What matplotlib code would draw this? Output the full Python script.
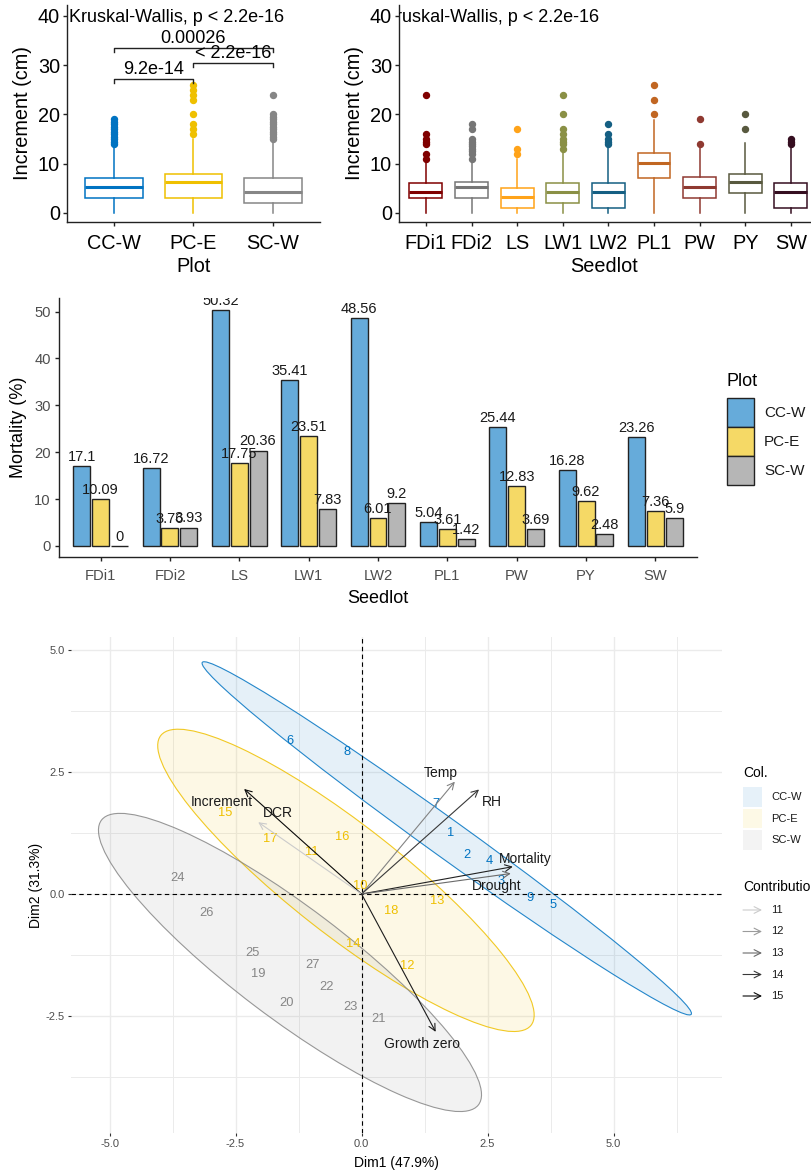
import numpy as np
import matplotlib
matplotlib.use('Agg')
import matplotlib.pyplot as plt
from matplotlib.patches import Ellipse, Rectangle
from matplotlib.colors import LinearSegmentedColormap, Normalize, to_rgb

plt.rcParams['font.family'] = ['Liberation Sans', 'DejaVu Sans']

W, H = 812, 1170

# ---------------- data ----------------
# increment by plot (box stats)
plots = ['CC-W', 'PC-E', 'SC-W']
plot_cols = ['#0073C2', '#EFC000', '#868686']
plot_lo = [0, 0, 0]
plot_q1 = [3, 3, 2]
plot_med = [5.25, 6.3, 4.2]
plot_q3 = [7.1, 8.0, 7.1]
plot_hi = [13.2, 15, 14.5]
plot_out = [[14, 14.5, 15, 15.5, 16, 16.5, 17, 17.5, 18, 18.5, 19],
            [16, 17, 18, 20, 23, 24, 25, 26],
            [15, 15.5, 16, 16.5, 17, 17.5, 18, 18.5, 19, 19.5, 20, 24]]
brk_x1 = [1, 1, 2]
brk_x2 = [2, 3, 3]
brk_y = [27.2, 33.5, 30.4]
brk_lab = ['9.2e-14', '0.00026', '< 2.2e-16']
kw_label = 'Kruskal-Wallis, p < 2.2e-16'

# increment by seedlot
seedlots = ['FDi1', 'FDi2', 'LS', 'LW1', 'LW2', 'PL1', 'PW', 'PY', 'SW']
seed_cols = ['#800000', '#767676', '#FFA319', '#8A9045', '#155F83',
             '#C16622', '#8F3931', '#58593F', '#350E20']
seed_lo = [0, 0, 0, 0, 0, 0, 0, 0, 0]
seed_q1 = [3, 3, 1, 2, 1, 7.1, 3, 4, 1]
seed_med = [4.25, 5.3, 3.2, 4.2, 4.2, 10.2, 5.3, 6.35, 4.2]
seed_q3 = [6.1, 6.2, 5.1, 6.1, 6.1, 12.1, 7.2, 8, 6.1]
seed_hi = [10.2, 10.2, 11, 12.2, 13.2, 18.9, 13.2, 14.2, 13.2]
seed_out = [[11, 12, 14, 14.5, 15, 16, 24],
            [11, 12, 12.5, 13, 13.5, 14, 14.5, 15, 17, 18],
            [12, 13, 17],
            [13, 14, 14.5, 15, 16, 17, 20, 24],
            [14, 14.5, 15, 16, 18],
            [20, 23, 26],
            [14, 19],
            [17, 20],
            [14, 14.5, 15]]

# mortality (%) by seedlot and plot
mort_cc = [17.1, 16.72, 50.32, 35.41, 48.56, 5.04, 25.44, 16.28, 23.26]
mort_pc = [10.09, 3.76, 17.75, 23.51, 6.01, 3.61, 12.83, 9.62, 7.36]
mort_sc = [0, 3.93, 20.36, 7.83, 9.2, 1.42, 3.69, 2.48, 5.9]
bar_cols = ['#66ABDA', '#F5D966', '#B6B6B6']

# PCA biplot
ind_lab = [str(i) for i in range(1, 28)]
ind_x = [1.77, 2.09, 2.76, 2.53, 3.80, -1.42, 1.47, -0.28, 3.34,
         -0.03, -0.99, 0.90, 1.51, -0.17, -2.71, -0.38, -1.82, 0.58,
         -2.04, -1.48, 0.34, -0.69, -0.21, -3.65, -2.16, -3.07, -0.97]
ind_y = [1.25, 0.80, 0.27, 0.67, -0.22, 3.13, 1.84, 2.91, -0.08,
         0.16, 0.86, -1.47, -0.14, -1.02, 1.66, 1.17, 1.12, -0.35,
         -1.64, -2.23, -2.56, -1.90, -2.31, 0.33, -1.21, -0.38, -1.45]
ind_grp = [0] * 9 + [1] * 9 + [2] * 9

ell_cx = [1.69, -0.31, -1.42]
ell_cy = [1.14, 0.28, -1.40]
ell_a = [6.04, 4.72, 4.74]
ell_b = [0.38, 1.11, 1.13]
ell_ang = [-36.6, -39.0, -38.0]

var_names = ['Increment', 'DCR', 'Temp', 'RH', 'Mortality', 'Drought', 'Growth zero']
var_x = [-2.33, -2.05, 1.85, 2.33, 3.00, 2.96, 1.47]
var_y = [2.15, 1.47, 2.30, 2.14, 0.56, 0.42, -2.82]
var_lx = [-2.78, -1.67, 1.57, 2.58, 3.24, 2.68, 1.19]
var_ly = [1.89, 1.65, 2.48, 1.89, 0.71, 0.16, -3.07]
var_contrib = [15, 11, 12.5, 14, 14.5, 13, 14.6]
contrib_ticks = [11, 12, 13, 14, 15]

fig = plt.figure(figsize=(W / 100, H / 100), dpi=100)


def px_axes(l, t, r, b):
    return fig.add_axes([l / W, 1 - b / H, (r - l) / W, (b - t) / H])


def classic(ax, col='black', size=13, xpad=3, ypad=3):
    for s in ['top', 'right']:
        ax.spines[s].set_visible(False)
    for s in ['left', 'bottom']:
        ax.spines[s].set_linewidth(1.0)
        ax.spines[s].set_color('#222222')
    ax.tick_params(length=3, width=1, color='#222222', labelsize=size,
                   labelcolor=col)
    ax.tick_params(axis='x', pad=xpad)
    ax.tick_params(axis='y', pad=ypad)


def boxes(ax, lo, q1, med, q3, hi, out, cols):
    for i in range(len(cols)):
        st = dict(whislo=lo[i], q1=q1[i], med=med[i], q3=q3[i], whishi=hi[i],
                  fliers=out[i])
        c = cols[i]
        ax.bxp([st], positions=[i + 1], widths=0.72, showcaps=False,
               manage_ticks=False, patch_artist=True,
               boxprops=dict(facecolor='white', edgecolor=c, linewidth=1.1),
               whiskerprops=dict(color=c, linewidth=1.1),
               medianprops=dict(color=c, linewidth=2.2),
               flierprops=dict(marker='o', markerfacecolor=c, markeredgecolor=c,
                               markersize=4.3, linestyle='none'))


# ---------------- top left: increment by plot ----------------
ax1 = px_axes(67, 5, 320, 222)
boxes(ax1, plot_lo, plot_q1, plot_med, plot_q3, plot_hi, plot_out, plot_cols)
ax1.set_xlim(0.41, 3.59)
ax1.set_ylim(-1.83, 42.2)
ax1.set_xticks(range(1, 4))
ax1.set_xticklabels(plots)
ax1.set_yticks([0, 10, 20, 30, 40])
classic(ax1, size=14.3, xpad=5.5, ypad=2)
ax1.set_xlabel('Plot', fontsize=14.3, labelpad=3)
ax1.set_ylabel('Increment (cm)', fontsize=14.3, labelpad=4)
ax1.text(0.44, 39.6, kw_label, fontsize=13, va='center', ha='left')
for x1, x2, y, lab in zip(brk_x1, brk_x2, brk_y, brk_lab):
    ax1.plot([x1, x1, x2, x2], [y - 0.8, y, y, y - 0.8], color='#222222', lw=1.0)
    ax1.text((x1 + x2) / 2, y + 0.15, lab, fontsize=13, ha='center', va='bottom')

# ---------------- top right: increment by seedlot ----------------
ax2 = px_axes(399, 5, 810, 222)
boxes(ax2, seed_lo, seed_q1, seed_med, seed_q3, seed_hi, seed_out, seed_cols)
ax2.set_xlim(0.41, 9.42)
ax2.set_ylim(-1.83, 42.2)
ax2.set_xticks(range(1, 10))
ax2.set_xticklabels(seedlots)
ax2.set_yticks([0, 10, 20, 30, 40])
classic(ax2, size=14.3, xpad=5.5, ypad=2)
ax2.set_xlabel('Seedlot', fontsize=14.3, labelpad=3)
ax2.set_ylabel('Increment (cm)', fontsize=14.3, labelpad=4)
ax2.text(0.08, 39.6, kw_label, fontsize=13, va='center', ha='left', clip_on=True)

# ---------------- middle: mortality bars ----------------
ax3 = px_axes(59, 298, 697, 557)
xpos = np.arange(1, len(seedlots) + 1)
offs = [-0.27, 0, 0.27]
for k, vals in enumerate([mort_cc, mort_pc, mort_sc]):
    ax3.bar(xpos + offs[k], vals, width=0.245, color=bar_cols[k],
            edgecolor='#222222', linewidth=1.0)
    for x, v in zip(xpos + offs[k], vals):
        ax3.annotate(f'{v:g}', (x, v), xytext=(0, 1.5), textcoords='offset points',
                     ha='center', va='bottom', fontsize=10.5, color='#1a1a1a',
                     clip_on=True, annotation_clip=False)
ax3.set_xlim(0.4, 9.6)
ax3.set_ylim(-2.35, 52.9)
ax3.set_xticks(xpos)
ax3.set_xticklabels(seedlots)
ax3.set_yticks([0, 10, 20, 30, 40, 50])
classic(ax3, col='#4D4D4D', size=10.6, xpad=5.5, ypad=3)
ax3.set_xlabel('Seedlot', fontsize=13, labelpad=5)
ax3.set_ylabel('Mortality (%)', fontsize=13, labelpad=5)

# ---------------- bottom: PCA biplot ----------------
ax4 = px_axes(70.7, 637, 722, 1133)
ax4.set_xlim(-5.77, 7.15)
ax4.set_ylim(-4.89, 5.26)
ax4.set_xticks([-5, -2.5, 0, 2.5, 5])
ax4.set_xticklabels(['-5.0', '-2.5', '0.0', '2.5', '5.0'])
ax4.set_yticks([-2.5, 0, 2.5, 5])
ax4.set_yticklabels(['-2.5', '0.0', '2.5', '5.0'])
ax4.set_xticks([-3.75, -1.25, 1.25, 3.75, 6.25], minor=True)
ax4.set_yticks([-3.75, -1.25, 1.25, 3.75], minor=True)
ax4.grid(True, which='major', color='#EBEBEB', lw=1.0)
ax4.grid(True, which='minor', color='#EBEBEB', lw=0.7)
ax4.set_axisbelow(True)
for s in ax4.spines.values():
    s.set_visible(False)
ax4.tick_params(which='major', length=2.5, width=0.8, color='#333333',
                labelsize=8, labelcolor='#4D4D4D', pad=2)
ax4.tick_params(which='minor', length=0)
ax4.set_xlabel('Dim1 (47.9%)', fontsize=10, labelpad=5)
ax4.set_ylabel('Dim2 (31.3%)', fontsize=10, labelpad=2)

for g in range(3):
    ax4.add_patch(Ellipse((ell_cx[g], ell_cy[g]), 2 * ell_a[g], 2 * ell_b[g],
                          angle=ell_ang[g], facecolor=plot_cols[g], alpha=0.1,
                          edgecolor='none', zorder=1))
    ax4.add_patch(Ellipse((ell_cx[g], ell_cy[g]), 2 * ell_a[g], 2 * ell_b[g],
                          angle=ell_ang[g], facecolor='none',
                          edgecolor=plot_cols[g], lw=0.8, alpha=0.85, zorder=2))

ax4.axhline(0, color='black', ls=(0, (4, 3)), lw=0.8, zorder=3)
ax4.axvline(0, color='black', ls=(0, (4, 3)), lw=0.8, zorder=3)

for lab, x, y, g in zip(ind_lab, ind_x, ind_y, ind_grp):
    ax4.text(x, y, lab, color=plot_cols[g], fontsize=9.3, ha='center',
             va='center', zorder=4)

cmap = LinearSegmentedColormap.from_list('contrib', ['#D4D4D4', '#000000'])
norm = Normalize(10.8, 15.2)
for name, x, y, lx, ly, c in zip(var_names, var_x, var_y, var_lx, var_ly,
                                 var_contrib):
    ax4.annotate('', xy=(x, y), xytext=(0, 0),
                 arrowprops=dict(arrowstyle='->', color=cmap(norm(c)), lw=0.8,
                                 mutation_scale=12, shrinkA=0, shrinkB=0),
                 zorder=5)
    ax4.text(lx, ly, name, fontsize=10, color='#1a1a1a', ha='center',
             va='center', zorder=6)

# ---------------- legends (figure pixel overlay) ----------------
ov = fig.add_axes([0, 0, 1, 1])
ov.set_xlim(0, W)
ov.set_ylim(H, 0)
ov.axis('off')
ov.patch.set_alpha(0)

ov.text(727, 382, 'Plot', fontsize=13, va='center', ha='left')
for k, name in enumerate(plots):
    ov.add_patch(Rectangle((727, 398 + 29 * k), 27, 29, facecolor=bar_cols[k],
                           edgecolor='#222222', lw=1.0))
    ov.text(764, 413 + 29 * k, name, fontsize=11, va='center', ha='left',
            color='#1a1a1a')

ov.text(743, 773, 'Col.', fontsize=10, va='center', ha='left')
for k, name in enumerate(plots):
    rgb = np.array(to_rgb(plot_cols[k]))
    key = 0.1 * rgb + 0.9
    ov.add_patch(Rectangle((743, 787 + 21.5 * k), 19.5, 19.5,
                           facecolor=key, edgecolor='none'))
    ov.text(771, 797 + 21.5 * k, name, fontsize=8, va='center', ha='left',
            color='#1a1a1a')

ov.text(743, 887, 'Contribution', fontsize=10, va='center', ha='left')
for k, v in enumerate(contrib_ticks):
    yy = 910 + 21.5 * k
    ov.annotate('', xy=(762, yy), xytext=(743, yy),
                arrowprops=dict(arrowstyle='->', color=cmap(norm(v)), lw=0.8,
                                mutation_scale=12, shrinkA=0, shrinkB=0))
    ov.text(771, yy, str(v), fontsize=8, va='center', ha='left', color='#1a1a1a')

fig.savefig('out.png', dpi=100)
